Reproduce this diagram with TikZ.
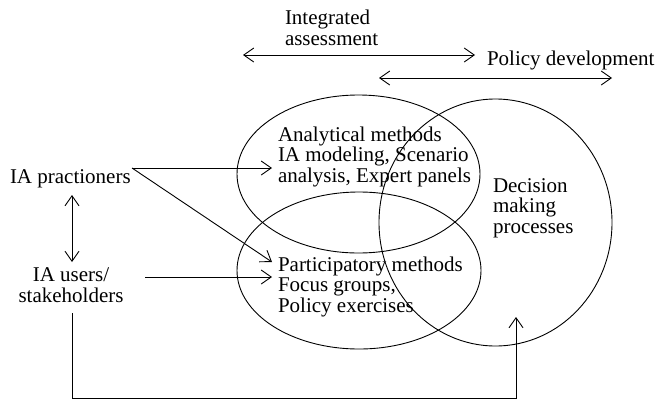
\documentclass[tikz,border=0pt]{standalone}
\usepackage{fontspec}
\setmainfont{Liberation Serif}
\usetikzlibrary{arrows.meta}
\begin{document}
\begin{tikzpicture}[x=1pt,y=-1pt,
  line width=0.9pt,
  every node/.style={inner sep=0pt,outer sep=0pt,font=\fontsize{21}{20.5}\selectfont},
  txt/.style={anchor=base west,align=left},
  arr/.style={-{Straight Barb[length=10pt,width=14pt,line width=0.9pt]}},
  darr/.style={{Straight Barb[length=10pt,width=14pt,line width=0.9pt]}-{Straight Barb[length=10pt,width=14pt,line width=0.9pt]}}]
\useasboundingbox (0,0) rectangle (658,400);
% ellipses
\draw (358.5,174) ellipse [x radius=121.5, y radius=79];
\draw (359,270.5) ellipse [x radius=122, y radius=78.5];
\draw (495.5,222.5) ellipse [x radius=116.5, y radius=123.5];
% texts (anchor at baseline of last line)
\node[txt] (ia) at (285,45) {Integrated\\assessment};
\node[txt] (pd) at (487,65) {Policy development};
\node[txt] (an) at (278,182) {Analytical methods\\IA modeling, Scenario\\analysis, Expert panels};
\node[txt] (pa) at (278,312) {Participatory methods\\Focus groups,\\Policy exercises};
\node[txt] (dm) at (493,233) {Decision\\making\\processes};
\node[txt] (prac) at (10,183) {IA practioners};
\node[anchor=base,align=center] (users) at (71,302) {IA users/\\stakeholders};
% coordinates
\coordinate (iaL) at (243,55);
\coordinate (iaR) at (475,55);
\coordinate (pdL) at (379,78);
\coordinate (pdR) at (612,78);
\coordinate (pracOut) at (132,168);
\coordinate (anIn) at (272,168);
\coordinate (paIn1) at (272,262);
\coordinate (usersOut) at (145,277);
\coordinate (paIn2) at (272,277);
\coordinate (vTop) at (72,195);
\coordinate (vBot) at (72,262);
\coordinate (fbStart) at (72,313);
\coordinate (fbEnd) at (516,317);
% arrows
\draw[darr] (iaL) -- (iaR);
\draw[darr] (pdL) -- (pdR);
\draw[arr] (pracOut) -- (anIn);
\draw[arr] (pracOut) -- (paIn1);
\draw[arr] (usersOut) -- (paIn2);
\draw[darr] (vTop) -- (vBot);
\draw[arr] (fbStart) -- (72,398) -| (fbEnd);
\end{tikzpicture}
\end{document}
